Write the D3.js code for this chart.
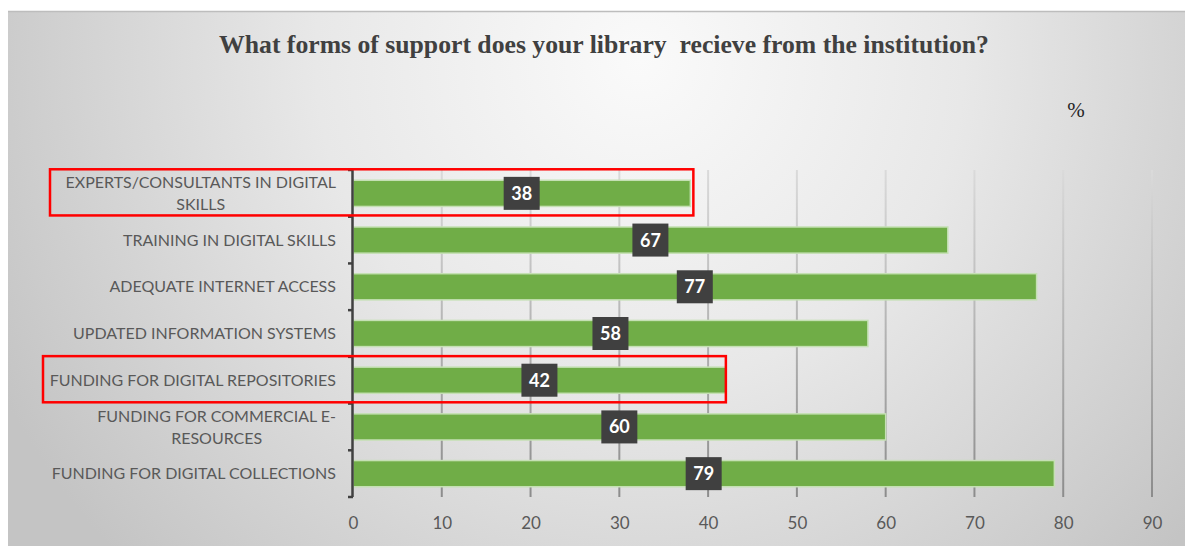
<!DOCTYPE html>
<html>
<head>
<meta charset="utf-8">
<script src="https://cdn.jsdelivr.net/npm/d3@7"></script>
<style>
  html, body { margin: 0; padding: 0; background: #ffffff; }
  svg { display: block; }
</style>
</head>
<body>
<svg id="chart" width="1185" height="546"></svg>
<script>
// Survey answers, shown top to bottom
const categories = [
  ["EXPERTS/CONSULTANTS IN DIGITAL", "SKILLS"],
  ["TRAINING IN DIGITAL SKILLS"],
  ["ADEQUATE INTERNET ACCESS"],
  ["UPDATED INFORMATION SYSTEMS"],
  ["FUNDING FOR DIGITAL REPOSITORIES"],
  ["FUNDING FOR COMMERCIAL E-", "RESOURCES"],
  ["FUNDING FOR DIGITAL COLLECTIONS"]
];
const values = [38, 67, 77, 58, 42, 60, 79];
const xTicks = [0, 10, 20, 30, 40, 50, 60, 70, 80, 90];
const highlighted = [0, 4];

const title = "What forms of support does your library\u00a0 recieve from the institution?";
const unitLabel = "%";

const svg = d3.select("#chart");
const W = 1185, H = 546;

// Chart area background: soft radial shading
const defs = svg.append("defs");
const bg = defs.append("radialGradient")
  .attr("id", "bgGrad")
  .attr("gradientUnits", "userSpaceOnUse")
  .attr("cx", 640).attr("cy", 60).attr("r", 720)
  .attr("fx", 640).attr("fy", 60);
bg.append("stop").attr("offset", "0%").attr("stop-color", "#fafafa");
bg.append("stop").attr("offset", "45%").attr("stop-color", "#e8e8e8");
bg.append("stop").attr("offset", "100%").attr("stop-color", "#c4c4c4");

const gridGrad = defs.append("linearGradient")
  .attr("id", "gridGrad")
  .attr("gradientUnits", "userSpaceOnUse")
  .attr("x1", 0).attr("y1", 170).attr("x2", 0).attr("y2", 497);
gridGrad.append("stop").attr("offset", "0%").attr("stop-color", "#dadada");
gridGrad.append("stop").attr("offset", "100%").attr("stop-color", "#8c8c8c");

svg.append("rect")
  .attr("x", 8).attr("y", 11).attr("width", W - 8).attr("height", H - 11)
  .attr("fill", "url(#bgGrad)");
svg.append("line")
  .attr("x1", 8).attr("x2", W).attr("y1", 11.5).attr("y2", 11.5)
  .attr("stroke", "#bdbdbd").attr("stroke-width", 1.5);

// Scales
const x = d3.scaleLinear().domain([0, 90]).range([353, 1152]);
const y = d3.scaleBand()
  .domain(d3.range(categories.length))
  .range([170, 497])
  .paddingInner(0.44)
  .paddingOuter(0.22);

// Vertical gridlines
svg.append("g")
  .selectAll("line")
  .data(xTicks.slice(1))
  .join("line")
  .attr("x1", d => x(d)).attr("x2", d => x(d))
  .attr("y1", 170).attr("y2", 497)
  .attr("stroke", "url(#gridGrad)")
  .attr("stroke-width", 2);

// X axis tick labels
const xAxis = d3.axisBottom(x).tickValues(xTicks).tickSize(0).tickPadding(0);
const gx = svg.append("g").attr("transform", "translate(0,517)").call(xAxis);
gx.select(".domain").remove();
gx.selectAll("text")
  .attr("dy", "0.71em")
  .attr("font-family", "Lato, 'Open Sans', sans-serif")
  .attr("font-size", 17)
  .attr("fill", "#595959");

// Bars
svg.append("g")
  .selectAll("rect")
  .data(values)
  .join("rect")
  .attr("x", x(0))
  .attr("y", (d, i) => y(i))
  .attr("width", d => x(d) - x(0))
  .attr("height", y.bandwidth())
  .attr("fill", "#70ad47")
  .attr("stroke", "#c5e0b4")
  .attr("stroke-width", 1.5);

// Y axis line with ticks at category boundaries
const step = (497 - 170) / categories.length;
const yAxisG = svg.append("g");
yAxisG.append("line")
  .attr("x1", 352.5).attr("x2", 352.5).attr("y1", 170).attr("y2", 497)
  .attr("stroke", "#404040").attr("stroke-width", 2.5);
yAxisG.selectAll("line.tick")
  .data(d3.range(categories.length + 1))
  .join("line")
  .attr("class", "tick")
  .attr("x1", 348).attr("x2", 353)
  .attr("y1", i => 170 + i * step).attr("y2", i => 170 + i * step)
  .attr("stroke", "#404040").attr("stroke-width", 2.5);

// Category labels (wrapped lines centred within their block, block right-aligned)
const labelRight = 336;
const lineH = 22;
const labelG = svg.append("g");
categories.forEach((lines, i) => {
  const cy = y(i) + y.bandwidth() / 2;
  const t = labelG.append("text")
    .attr("font-family", "Lato, 'Open Sans', sans-serif")
    .attr("font-size", 16)
    .attr("fill", "#595959");
  const spans = lines.map((ln, k) => t.append("tspan")
    .attr("y", cy + (k - (lines.length - 1) / 2) * lineH)
    .attr("dy", "0.35em")
    .text(ln));
  const widths = spans.map(s => s.node().getComputedTextLength());
  const maxW = d3.max(widths);
  spans.forEach(s => s.attr("x", labelRight - maxW / 2).attr("text-anchor", "middle"));
});

// Value labels: dark boxes at the middle of each bar
const vl = svg.append("g")
  .selectAll("g")
  .data(values)
  .join("g")
  .attr("transform", (d, i) => `translate(${x(d / 2)},${y(i) + y.bandwidth() / 2})`);
vl.append("rect")
  .attr("x", -18).attr("y", -16.5).attr("width", 36).attr("height", 33)
  .attr("fill", "#404040");
vl.append("text")
  .attr("text-anchor", "middle")
  .attr("dy", "0.36em")
  .attr("font-family", "Lato, 'Open Sans', sans-serif")
  .attr("font-weight", "bold")
  .attr("font-size", 18)
  .attr("fill", "#ffffff")
  .text(d => d);

// Red outlines around highlighted rows
const boxLeft = [50, 43];
const boxPad = [3, 0];
svg.append("g")
  .selectAll("rect")
  .data(highlighted)
  .join("rect")
  .attr("x", (d, k) => boxLeft[k])
  .attr("y", d => y(d) - 11)
  .attr("width", (d, k) => x(values[d]) + boxPad[k] - boxLeft[k])
  .attr("height", d => y.bandwidth() + 20)
  .attr("fill", "none")
  .attr("stroke", "#ff0000")
  .attr("stroke-width", 2.5);

// Title and unit
svg.append("text")
  .attr("x", 604).attr("y", 53)
  .attr("text-anchor", "middle")
  .attr("font-family", "'Liberation Serif', 'Times New Roman', serif")
  .attr("font-weight", "bold")
  .attr("font-size", 25.7)
  .attr("fill", "#404040")
  .text(title);
svg.append("text")
  .attr("x", 1076).attr("y", 117)
  .attr("text-anchor", "middle")
  .attr("font-family", "'Liberation Serif', 'Times New Roman', serif")
  .attr("font-size", 21)
  .attr("fill", "#262626")
  .text(unitLabel);
</script>
</body>
</html>
